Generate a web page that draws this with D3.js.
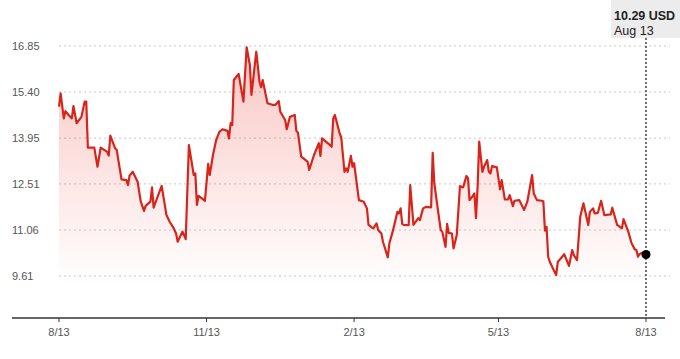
<!DOCTYPE html>
<html>
<head>
<meta charset="utf-8">
<script src="https://cdn.jsdelivr.net/npm/d3@7"></script>
<style>
  html, body { margin: 0; padding: 0; background: #fff; }
  svg { display: block; font-family: "Liberation Sans", Arial, Helvetica, sans-serif; }
</style>
</head>
<body>
<svg id="chart" width="680" height="359"></svg>
<script>
// Days since 2023-08-13 for each observation
const dayOffsets = [0,1,3,4,6,8,9,11,14,16,17,18,22,24,26,30,31,32,35,36,37,39,42,43,44,46,49,51,53,54,57,58,59,64,67,69,71,73,74,77,79,81,84,85,86,87,91,93,94,96,98,100,102,105,106,107,108,109,112,115,117,119,120,123,125,126,127,130,133,135,137,138,141,142,144,147,148,149,151,153,155,156,159,162,163,164,169,170,171,172,175,176,178,179,180,182,183,184,187,190,192,193,195,196,198,199,201,202,205,206,208,211,212,213,214,215,218,219,221,224,225,227,229,232,233,234,236,238,239,241,242,243,245,246,248,250,252,254,255,256,258,259,260,261,262,264,265,267,268,269,270,273,275,276,278,280,281,283,284,287,290,292,295,296,298,301,302,303,304,305,306,308,310,311,313,315,318,320,321,323,325,327,330,331,333,334,336,338,340,344,345,346,348,351,352,355,357,359,360,361,362,363,366];
const prices = [14.94,15.36,14.57,14.80,14.68,14.57,14.96,14.42,14.62,15.10,15.10,13.65,13.65,13.05,13.65,13.52,13.40,14.03,13.63,13.58,13.26,12.65,12.63,12.47,12.77,12.89,12.58,11.95,11.66,11.82,11.95,12.40,11.76,12.45,11.53,11.32,11.16,10.95,10.69,11.01,10.77,13.73,12.79,12.84,11.85,12.13,11.98,13.14,12.79,13.42,13.89,14.15,14.23,14.18,13.94,14.42,14.36,15.78,15.97,15.10,16.81,16.25,15.31,16.67,15.73,15.55,15.78,15.05,15.00,15.00,15.12,14.78,14.52,14.23,14.62,14.68,14.18,14.12,13.37,13.29,13.21,12.95,13.42,13.79,13.39,13.94,13.73,13.68,14.57,14.68,14.10,13.97,12.89,13.00,12.89,13.39,13.05,13.16,12.00,11.95,11.74,11.22,11.14,11.11,11.27,11.06,10.95,10.69,10.20,10.64,11.00,11.63,11.58,11.74,11.25,11.22,11.21,12.47,11.22,11.43,11.37,11.74,11.79,11.77,13.49,12.53,11.79,11.06,11.00,10.53,11.25,10.97,10.95,10.48,10.90,12.44,12.40,12.76,12.69,12.00,12.13,12.21,11.43,12.42,13.84,12.89,13.05,13.26,12.89,12.84,13.07,13.03,12.34,12.63,12.02,12.02,12.16,11.81,11.98,12.00,11.69,11.95,12.79,12.21,12.00,11.98,11.96,11.04,11.16,10.22,10.06,9.85,9.64,10.06,10.17,10.30,9.93,10.43,10.27,10.11,11.48,11.90,11.22,11.63,11.74,11.58,11.60,11.98,11.53,11.55,11.76,11.58,11.22,11.11,11.40,11.00,10.64,10.45,10.43,10.22,10.30,10.33,10.29];
const yTickValues = [9.61, 11.06, 12.51, 13.95, 15.40, 16.85];
const yTickLabels = ["9.61", "11.06", "12.51", "13.95", "15.40", "16.85"];
const xTickDates = ["2023-08-13", "2023-11-13", "2024-02-13", "2024-05-13", "2024-08-13"];
const xTickLabels = ["8/13", "11/13", "2/13", "5/13", "8/13"];
const startDate = "2023-08-13";
const endDate = "2024-08-13";
const lastLabelValue = "10.29 USD";
const lastLabelDate = "Aug 13";

const parse = d3.timeParse("%Y-%m-%d");
const t0 = parse(startDate);
const data = dayOffsets.map((d, i) => ({ date: d3.timeDay.offset(t0, d), value: prices[i] }));

const svg = d3.select("#chart");
const x = d3.scaleTime().domain([t0, parse(endDate)]).range([59, 646]);
const y = d3.scaleLinear().domain([8.29, 16.85]).range([318, 46]);

// gradient
const defs = svg.append("defs");
const grad = defs.append("linearGradient").attr("id", "fillGrad")
  .attr("gradientUnits", "userSpaceOnUse").attr("x1", 0).attr("x2", 0).attr("y1", 46).attr("y2", 285);
grad.append("stop").attr("offset", "0%").attr("stop-color", "#e8261c").attr("stop-opacity", 0.26);
grad.append("stop").attr("offset", "100%").attr("stop-color", "#e8261c").attr("stop-opacity", 0);

// grid
const grid = svg.append("g");
grid.selectAll("line").data(yTickValues).join("line")
  .attr("x1", 59).attr("x2", 670)
  .attr("y1", d => y(d)).attr("y2", d => y(d))
  .attr("stroke", "#c8c8c8").attr("stroke-width", 1).attr("stroke-dasharray", "2,3");
svg.append("g").selectAll("text").data(yTickValues).join("text")
  .attr("x", 12).attr("y", d => y(d)).attr("dy", "0.35em")
  .attr("font-size", 11).attr("fill", "#555")
  .text((d, i) => yTickLabels[i]);

// area + line
svg.append("path").datum(data)
  .attr("fill", "url(#fillGrad)")
  .attr("d", d3.area().x(d => x(d.date)).y0(318).y1(d => y(d.value)));
svg.append("path").datum(data)
  .attr("fill", "none").attr("stroke", "#d9241b").attr("stroke-width", 2.2)
  .attr("stroke-linejoin", "round")
  .attr("d", d3.line().x(d => x(d.date)).y(d => y(d.value)));

// x axis
const xa = svg.append("g").attr("transform", "translate(0,318)");
xa.append("line").attr("x1", 12).attr("x2", 665).attr("stroke", "#333").attr("stroke-width", 1.5);
const xt = xa.selectAll("g.t").data(xTickDates).join("g").attr("class", "t")
  .attr("transform", d => `translate(${x(parse(d))},0)`);
xt.append("line").attr("y1", 0).attr("y2", 4).attr("stroke", "#333");
xt.append("text").attr("y", 14).attr("dy", "0.35em").attr("text-anchor", "middle")
  .attr("font-size", 11).attr("fill", "#555").text((d, i) => xTickLabels[i]);

// hover marker
const last = data[data.length - 1];
svg.append("line").attr("x1", x(last.date)).attr("x2", x(last.date)).attr("y1", 38).attr("y2", 318)
  .attr("stroke", "#111").attr("stroke-width", 1.2).attr("stroke-dasharray", "2,2");
svg.append("rect").attr("x", 611).attr("y", 0).attr("width", 69).attr("height", 38).attr("fill", "#ececec");
svg.append("text").attr("x", 614).attr("y", 20).attr("font-size", 12.5).attr("font-weight", "bold")
  .attr("fill", "#222").text(lastLabelValue);
svg.append("text").attr("x", 614).attr("y", 35).attr("font-size", 12.5)
  .attr("fill", "#222").text(lastLabelDate);
svg.append("circle").attr("cx", x(last.date)).attr("cy", y(last.value)).attr("r", 4.5).attr("fill", "#000");
</script>
</body>
</html>
